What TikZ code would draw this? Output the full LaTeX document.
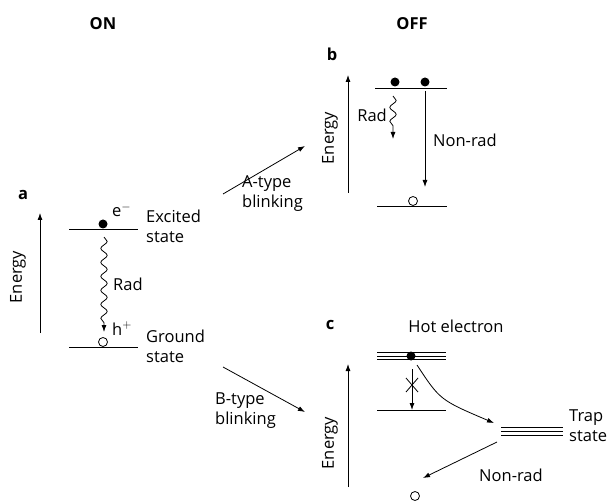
\documentclass[tikz,border=0pt]{standalone}
\usepackage{fontspec}
\setmainfont{Open Sans}
\usetikzlibrary{arrows.meta,decorations.pathmorphing}
\begin{document}
\begin{tikzpicture}[x=1pt,y=-1pt,
  txt/.style={font=\fontsize{16.5}{20}\selectfont, inner sep=0pt},
  hdr/.style={font=\fontsize{16.5}{18}\selectfont\bfseries, inner sep=0pt},
  lev/.style={line width=0.8pt},
  arr/.style={line width=0.8pt,-{Latex[length=7pt,width=5pt]}},
  wav/.style={line width=0.8pt,-{Latex[length=7pt,width=5pt]},decorate,decoration={snake,segment length=14pt,amplitude=3.2pt,post length=7pt}},
  elec/.style={circle,fill=black,inner sep=0pt,minimum size=9pt},
  hole/.style={circle,draw=black,fill=white,line width=0.8pt,inner sep=0pt,minimum size=9pt}]
\useasboundingbox (0,0) rectangle (612,502);
% headers
\node[hdr] (on) at (103,24) {ON};
\node[hdr] (off) at (412,24) {OFF};
\node[hdr] (la) at (23,195) {a};
\node[hdr] (lb) at (332,54) {b};
\node[hdr] (lc) at (330,325) {c};
% panel a
\coordinate (ea0) at (40,333); \coordinate (ea1) at (40,213);
\draw[arr] (ea0) -- (ea1);
\node[txt,rotate=90] (ena) at (18,277) {Energy};
\coordinate (exL) at (69,229); \coordinate (exR) at (138,229);
\draw[lev] (exL) -- (exR);
\coordinate (grL) at (69,347); \coordinate (grR) at (138,347);
\draw[lev] (grL) -- (grR);
\node[elec] (ea) at (103,224) {};
\node[hole] (ha) at (103,342) {};
\node[txt,anchor=base west] (em) at (112,217) {e$^-$};
\node[txt,anchor=base west] (hp) at (112,335) {h$^+$};
\node[txt,anchor=north west,align=left] (exc) at (146,210) {Excited\\state};
\node[txt,anchor=north west,align=left] (gro) at (146,330) {Ground\\state};
\coordinate (wa0) at (104,237); \coordinate (wa1) at (104,332);
\draw[wav] (wa0) -- (wa1);
\node[txt,anchor=west] (rada) at (113,284) {Rad};
% transitions
\coordinate (at0) at (223,194); \coordinate (at1) at (305,146);
\draw[arr] (at0) -- (at1);
\node[txt,anchor=north west,align=left] (atl) at (242,175) {A-type\\blinking};
\coordinate (bt0) at (223,367); \coordinate (bt1) at (305,412);
\draw[arr] (bt0) -- (bt1);
\node[txt,anchor=north west,align=left] (btl) at (215,393) {B-type\\blinking};
% panel b
\coordinate (eb0) at (348,193); \coordinate (eb1) at (348,75);
\draw[arr] (eb0) -- (eb1);
\node[txt,rotate=90] (enb) at (330,138) {Energy};
\coordinate (btL) at (375,88); \coordinate (btR) at (447,88);
\draw[lev] (btL) -- (btR);
\coordinate (bbL) at (377,206); \coordinate (bbR) at (447,206);
\draw[lev] (bbL) -- (bbR);
\node[elec] (eb1d) at (395,82) {};
\node[elec] (eb2d) at (425,82) {};
\node[hole] (hb) at (413,201) {};
\coordinate (wb0) at (393,96); \coordinate (wb1) at (393,139);
\draw[wav] (wb0) -- (wb1);
\node[txt,anchor=east] (radb) at (387,115) {Rad};
\coordinate (nb0) at (425,91); \coordinate (nb1) at (425,187);
\draw[arr] (nb0) -- (nb1);
\node[txt,anchor=west] (nrb) at (433,140) {Non-rad};
% panel c
\node[txt] (hot) at (456,326) {Hot electron};
\coordinate (ec0) at (348,487); \coordinate (ec1) at (348,364);
\draw[arr] (ec0) -- (ec1);
\node[txt,rotate=90] (enc) at (330,443) {Energy};
\foreach \yy in {352.5,356,359.5} \draw[line width=0.7pt] (377,\yy) -- (446,\yy);
\node[elec] (ec) at (411,356) {};
\coordinate (lcL) at (377,410); \coordinate (lcR) at (446,410);
\draw[lev] (lcL) -- (lcR);
\coordinate (xa0) at (412,369); \coordinate (xa1) at (412,410);
\draw[arr] (xa0) -- (xa1);
\draw[line width=0.8pt] (406,378) -- (418,392) (418,378) -- (406,392);
\foreach \yy in {427,431,435} \draw[line width=0.7pt] (501,\yy) -- (563,\yy);
\node[txt,anchor=north west,align=left] (trap) at (569,410) {Trap\\state};
\coordinate (cv0) at (417,365); \coordinate (cv1) at (494,423);
\draw[arr] (cv0) .. controls (440,400) .. (cv1);
\coordinate (nc0) at (497,442); \coordinate (nc1) at (423,478);
\draw[arr] (nc0) -- (nc1);
\node[txt] (nrc) at (511,475) {Non-rad};
\node[hole] (hc) at (415,496) {};
\coordinate (bcL) at (377,502); \coordinate (bcR) at (446,502);
\draw[lev] (bcL) -- (bcR);
\end{tikzpicture}
\end{document}
